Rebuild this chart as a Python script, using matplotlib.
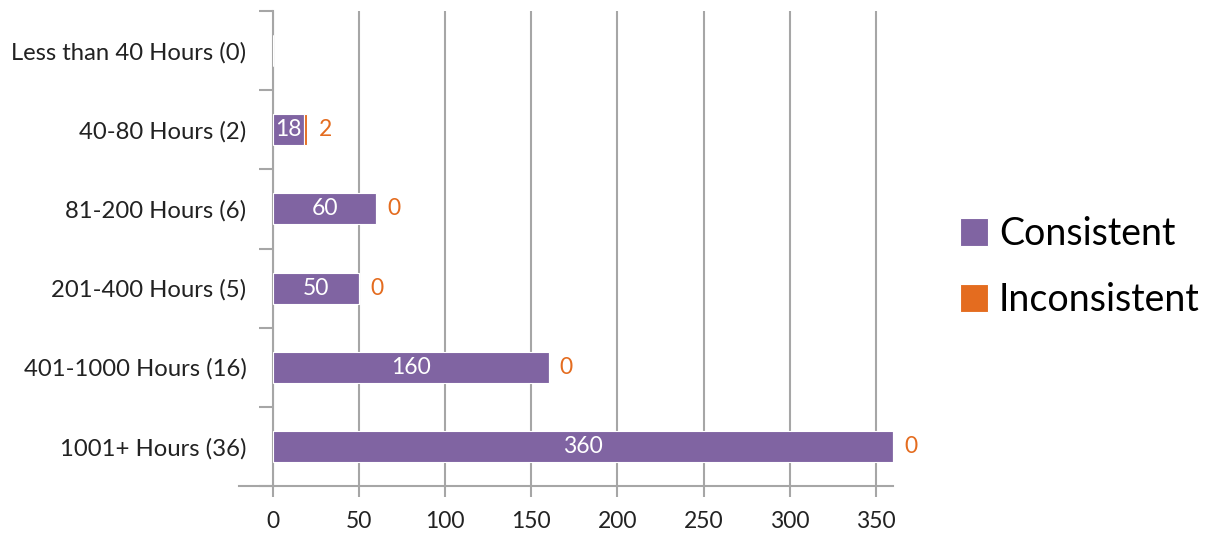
import numpy as np
import matplotlib
matplotlib.use("Agg")
import matplotlib.pyplot as plt

categories = ["Less than 40 Hours (0)", "40-80 Hours (2)", "81-200 Hours (6)",
              "201-400 Hours (5)", "401-1000 Hours (16)", "1001+ Hours (36)"]
consistent = [0, 18, 60, 50, 160, 360]
inconsistent = [0, 2, 0, 0, 0, 0]
xticks = [0, 50, 100, 150, 200, 250, 300, 350]

purple = '#8064A2'
orange = '#E46C1F'
grey = '#A6A6A6'

plt.rcParams['font.family'] = ['Lato', 'DejaVu Sans']

fig = plt.figure(figsize=(12.14, 5.33), dpi=100)
ax = fig.add_axes([273/1214, 47/533, 620/1214, 475/533])

ys = np.arange(len(categories))
cons = np.array(consistent)
inc = np.array(inconsistent)
h = 0.39
b1 = ax.barh(ys, cons, height=h, color=purple, edgecolor='white', linewidth=0.8,
             label='Consistent', zorder=3)
b2 = ax.barh(ys, inc, left=cons, height=h, color=orange, edgecolor='white', linewidth=0.8,
             label='Inconsistent', zorder=3)

for y, c, i in zip(ys, cons, inc):
    if c + i == 0:
        continue
    ax.text(c / 2, y, str(c), color='white', fontsize=16.5, ha='center', va='center', zorder=4)
    ax.annotate(str(i), (c + i, y), xytext=(8, 0), textcoords='offset points',
                color=orange, fontsize=16.5, ha='left', va='center', zorder=4)

ax.set_xlim(0, 360)
ax.set_ylim(len(categories) - 0.5, -0.5)
ax.set_xticks(xticks)
ax.set_xticklabels([str(t) for t in xticks], fontsize=16.5, color='#222222')
ax.set_yticks(ys)
ax.set_yticklabels(categories, fontsize=17.2, color='#222222')
ax.set_yticks(np.arange(len(categories) + 1) - 0.5, minor=True)
ax.tick_params(axis='y', which='major', length=0, pad=19)
ax.tick_params(axis='y', which='minor', length=10, width=1.5, color=grey)
ax.tick_params(axis='x', length=8, width=1.5, color=grey, pad=10)

ax.grid(axis='x', color=grey, linewidth=1.5, zorder=0)
for s in ['top', 'right']:
    ax.spines[s].set_visible(False)
for s in ['left', 'bottom']:
    ax.spines[s].set_color(grey)
    ax.spines[s].set_linewidth(1.5)
ax.spines['bottom'].set_bounds(-20, 360)
ax.spines['bottom'].set_clip_on(False)

fig.legend(handles=[b1, b2], loc='center left', bbox_to_anchor=(926/1214, 1 - 267/533),
           frameon=False, fontsize=27, handlelength=0.75, handleheight=0.75,
           handletextpad=0.3, labelspacing=0.8)

fig.savefig('out.png', dpi=100)
